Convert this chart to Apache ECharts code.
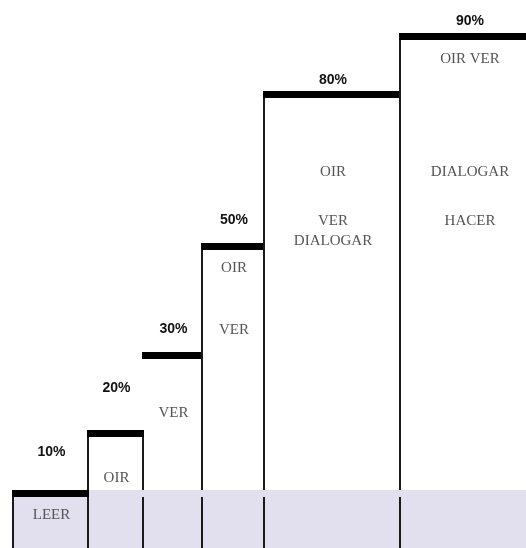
<!DOCTYPE html>
<html>
<head>
<meta charset="utf-8">
<title>Cono del aprendizaje</title>
<script src="https://cdn.jsdelivr.net/npm/echarts@6/dist/echarts.min.js"></script>
<style>
  html, body { margin: 0; padding: 0; background: #fff; }
  #youChart { width: 526px; height: 548px; }
</style>
</head>
<body>
<div id="youChart"></div>
<script>
// datos
const pctLabels = ["10%", "20%", "30%", "50%", "80%", "90%"]
const stepHeights = [58, 118, 196, 305, 457, 515]
const barEdges = [0, 75, 130, 189, 251, 387, 525]
const boxTexts = [
  ["LEER"],
  ["OIR"],
  ["VER"],
  ["OIR", "VER"],
  ["OIR", "VER", "DIALOGAR"],
  ["OIR VER", "DIALOGAR", "HACER"],
]

// maquetacion (px)
const labelGap = [38, 42, 23, 23, 11, 12]
const textDy = [[25], [48], [61], [25, 87], [81, 130, 150], [26, 139, 188]]
const hasLeftEdge = [true, true, false, true, true, true]
const TOP_W = 7

const stepData = pctLabels.map((p, i) => [barEdges[i], barEdges[i + 1], stepHeights[i]])

// linea vertical cortada en la franja de la base
function vLine(x, yTop, yBase, yBottom) {
  const st = { stroke: "#1a1a1a", lineWidth: 2 }
  const out = []
  if (yTop < yBase) {
    out.push({ type: "line", shape: { x1: x, y1: yTop, x2: x, y2: yBase }, style: st })
  }
  out.push({ type: "line", shape: { x1: x, y1: Math.max(yTop, yBase + TOP_W), x2: x, y2: yBottom }, style: st })
  return out
}

function renderStep(params, api) {
  const i = params.dataIndex
  const pL = api.coord([api.value(0), api.value(2)])
  const pR = api.coord([api.value(1), api.value(2)])
  const yBase = api.coord([0, stepHeights[0]])[1]
  const yBottom = params.coordSys.y + params.coordSys.height
  const cx = (pL[0] + pR[0]) / 2
  let children = []
  if (hasLeftEdge[i]) children = children.concat(vLine(pL[0], pL[1], yBase, yBottom))
  children = children.concat(vLine(pR[0], pR[1], yBase, yBottom))
  children.push({
    type: "rect",
    shape: { x: pL[0] - 1, y: pL[1], width: pR[0] - pL[0] + 2, height: TOP_W },
    style: { fill: "#000" },
  })
  children.push({
    type: "text",
    x: cx + 1,
    y: pL[1] - labelGap[i],
    style: {
      text: pctLabels[i],
      align: "center",
      verticalAlign: "middle",
      font: "bold 14px 'Liberation Sans', Arial, sans-serif",
      fill: "#111",
    },
  })
  boxTexts[i].forEach((t, k) => {
    children.push({
      type: "text",
      x: cx + 1,
      y: pL[1] + textDy[i][k],
      style: {
        text: t,
        align: "center",
        verticalAlign: "middle",
        font: "15px 'Liberation Serif', 'Times New Roman', serif",
        fill: "#555",
      },
    })
  })
  return { type: "group", children: children }
}

function renderBand(params, api) {
  const a = api.coord([api.value(0), api.value(2)])
  const b = api.coord([api.value(1), 0])
  return {
    type: "rect",
    shape: { x: a[0], y: a[1], width: b[0] - a[0], height: b[1] - a[1] },
    style: { fill: "#e2dfee" },
  }
}

const myChart = echarts.init(document.getElementById("youChart"))
myChart.setOption({
  animation: false,
  grid: { left: 13, right: 0, top: 0, bottom: 0 },
  xAxis: { type: "value", min: 0, max: 513, show: false },
  yAxis: { type: "value", min: 0, max: 548, show: false },
  series: [
    {
      type: "custom",
      z: 1,
      silent: true,
      renderItem: renderBand,
      data: [[barEdges[0], barEdges[barEdges.length - 1], stepHeights[0]]],
    },
    {
      type: "custom",
      z: 2,
      silent: true,
      clip: false,
      renderItem: renderStep,
      data: stepData,
    },
  ],
})
</script>
</body>
</html>
